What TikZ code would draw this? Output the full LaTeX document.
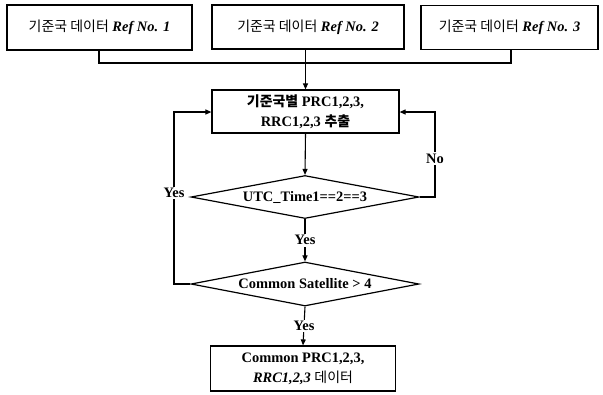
\documentclass[tikz,border=0pt]{standalone}
\usepackage{fontspec}
\setmainfont{Liberation Serif}
\newfontfamily\kr{Noto Sans CJK KR}
\usetikzlibrary{shapes.geometric,arrows.meta}
\newcommand{\kt}[1]{{\kr\fontsize{14}{20}\selectfont #1}}
\begin{document}
\begin{tikzpicture}[x=1bp,y=-1bp,
  every node/.style={font=\fontsize{14.5}{20}\selectfont\bfseries},
  boxnode/.style={draw,line width=1.2bp,rectangle,inner sep=0pt,align=center},
  decision/.style={draw,line width=1.2bp,diamond,aspect=5.3,inner sep=0pt},
  conn/.style={line width=1.1bp},
  arr/.style={line width=1.1bp,-{Triangle[length=6bp,width=5bp]}},
  lbl/.style={fill=white,inner sep=1.5bp}]
\useasboundingbox (0,0) rectangle (603,394);
\node[boxnode,minimum width=185bp,minimum height=45bp] (r1) at (99.5,27.5) {\kt{\mdseries 기준국 데이터} \textit{Ref No. 1}};
\node[boxnode,minimum width=192bp,minimum height=44bp] (r2) at (308,27) {\kt{\mdseries 기준국 데이터} \textit{Ref No. 2}};
\node[boxnode,minimum width=177bp,minimum height=44bp] (r3) at (509.5,27.5) {\kt{\mdseries 기준국 데이터} \textit{Ref No. 3}};
\node[boxnode,minimum width=187bp,minimum height=43bp] (m) at (305.5,111.5) {\kt{기준국별} PRC1,2,3,\\RRC1,2,3 \kt{추출}};
\node[decision,minimum width=228bp,minimum height=43bp] (d1) at (305,197) {UTC\_Time1==2==3};
\node[decision,minimum width=228bp,minimum height=44bp] (d2) at (305,284) {Common Satellite > 4};
\node[boxnode,minimum width=185bp,minimum height=45bp] (f) at (303,368.5) {Common PRC1,2,3,\\\textit{RRC1,2,3} \kt{\mdseries 데이터}};
\coordinate (j1) at (99,63);
\coordinate (j3) at (511,63);
\coordinate (jr) at (435,112);
\coordinate (jl) at (174,112);
\draw[conn] (r1.south -| j1) -- (j1) -- (j3) -- (r3.south -| j3);
\draw[arr] (r2.south -| m.north) -- (m.north);
\draw[arr] (m.south) -- (d1.north);
\draw[arr] (d1.south) -- node[lbl,pos=0.5] {Yes} (d2.north);
\draw[arr] (d2.south) -- node[lbl,pos=0.5] {Yes} (f.north);
\draw[arr] (d1.east) -- (d1.east -| jr) -- node[lbl,pos=0.45] {No} (jr) -- (m.east |- jr);
\draw[arr] (d2.west) -- (d2.west -| jl) -- node[lbl,pos=0.53] {Yes} (jl) -- (m.west |- jl);
\end{tikzpicture}
\end{document}
